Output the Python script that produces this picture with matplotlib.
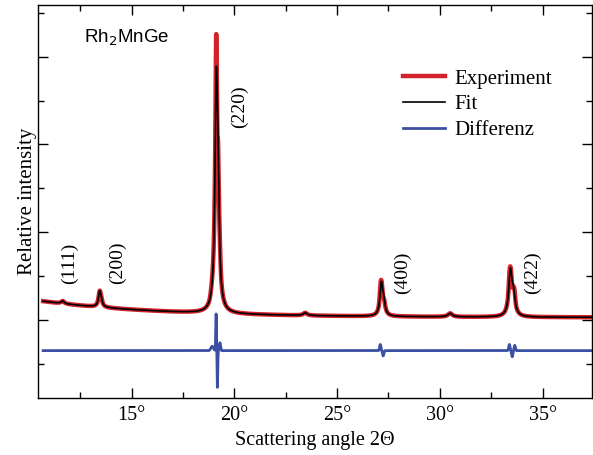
import numpy as np
import matplotlib
matplotlib.use("Agg")
import matplotlib.pyplot as plt
from matplotlib.ticker import MultipleLocator, FuncFormatter

# --- Pattern data (2-theta in degrees, intensity in arbitrary units) ---
angle_min, angle_max, angle_step = 10.7, 37.4, 0.005

# Background of the refinement: offset, amplitude, decay length
bg_offset, bg_amp, bg_decay = 0.028, 0.185, 6.0

# Reflections of the fitted profile (Lorentzian lines, K-alpha1 and K-alpha2)
peak_pos    = [11.65, 13.45, 13.52, 19.12, 19.20, 23.45, 27.15, 27.26, 30.50, 33.43, 33.58]
peak_height = [0.030, 0.160, 0.055, 2.270, 1.100, 0.030, 0.350, 0.140, 0.040, 0.500, 0.210]
peak_fwhm   = [0.18,  0.14,  0.14,  0.15,  0.15,  0.22,  0.16,  0.16,  0.25,  0.19,  0.19]

# Residual features (experiment minus fit)
resid_pos    = [18.92, 19.115, 19.175, 19.30, 27.10, 27.24, 33.38, 33.52, 33.64]
resid_amp    = [0.050, 0.420, -0.420, 0.090, 0.070, -0.060, 0.070, -0.070, 0.060]
resid_sigma  = [0.06,  0.018, 0.018, 0.03,  0.03,  0.03,  0.03,  0.03,  0.03]

diff_offset = -0.35

hkl_labels = ["(111)", "(200)", "(220)", "(400)", "(422)"]
hkl_x      = [12.0, 14.32, 20.26, 28.2, 34.5]
hkl_y      = [0.65, 0.65, 2.43, 0.54, 0.54]

x = np.arange(angle_min, angle_max + angle_step / 2, angle_step)

fit = bg_offset + bg_amp * np.exp(-(x - angle_min) / bg_decay)
for p, h, w in zip(peak_pos, peak_height, peak_fwhm):
    fit += h / (1.0 + ((x - p) / (w / 2.0)) ** 2)

resid = np.zeros_like(x)
for p, a, s in zip(resid_pos, resid_amp, resid_sigma):
    resid += a * np.exp(-0.5 * ((x - p) / s) ** 2)

experiment = fit + resid
difference = resid + diff_offset

# --- Figure ---
fig = plt.figure(figsize=(5.93, 4.55), dpi=100)
ax = fig.add_axes([38 / 593, 57 / 455, 554 / 593, 393 / 455])

red = "#d2232a"
blue = "#3b4fa3"

ax.plot(x, experiment, color=red, lw=3.2, label="Experiment", solid_joinstyle="round")
ax.plot(x, fit, color="black", lw=1.2, label="Fit")
ax.plot(x, difference, color=blue, lw=2.0, label="Differenz")

ax.set_xlim(10.45, 37.4)
ax.set_ylim(-0.89, 3.59)

ax.xaxis.set_major_locator(MultipleLocator(5))
ax.xaxis.set_minor_locator(MultipleLocator(2.5))
ax.xaxis.set_major_formatter(FuncFormatter(lambda v, _: f"{v:.0f}°"))
ax.yaxis.set_major_locator(MultipleLocator(1.0))
ax.yaxis.set_minor_locator(MultipleLocator(0.5))

ax.tick_params(which="both", direction="in", top=True, right=True, width=1.0)
ax.tick_params(which="major", length=7)
ax.tick_params(which="minor", length=4)
ax.tick_params(axis="y", which="both", labelleft=False)

serif = "Liberation Serif"
for lbl in ax.get_xticklabels():
    lbl.set_fontfamily(serif)
    lbl.set_fontsize(14.5)
ax.tick_params(axis="x", pad=6)

for sp in ax.spines.values():
    sp.set_linewidth(1.0)

ax.set_xlabel("Scattering angle 2Θ", fontfamily=serif, fontsize=14.5, labelpad=4)
ax.set_ylabel("Relative intensity", fontfamily=serif, fontsize=15, labelpad=1)

ax.text(12.7, 3.22, r"Rh$_2$MnGe", fontfamily="Liberation Sans", fontsize=13.5,
        va="center", ha="left")

for t, xx, yy in zip(hkl_labels, hkl_x, hkl_y):
    ax.text(xx, yy, t, rotation=90, fontfamily=serif, fontsize=14,
            ha="center", va="center")

leg = ax.legend(loc="upper left", bbox_to_anchor=(0.625, 0.885), frameon=False,
                prop={"family": serif, "size": 15}, handlelength=2.0,
                handletextpad=0.45, labelspacing=0.3)

fig.savefig("out.png", dpi=100)
